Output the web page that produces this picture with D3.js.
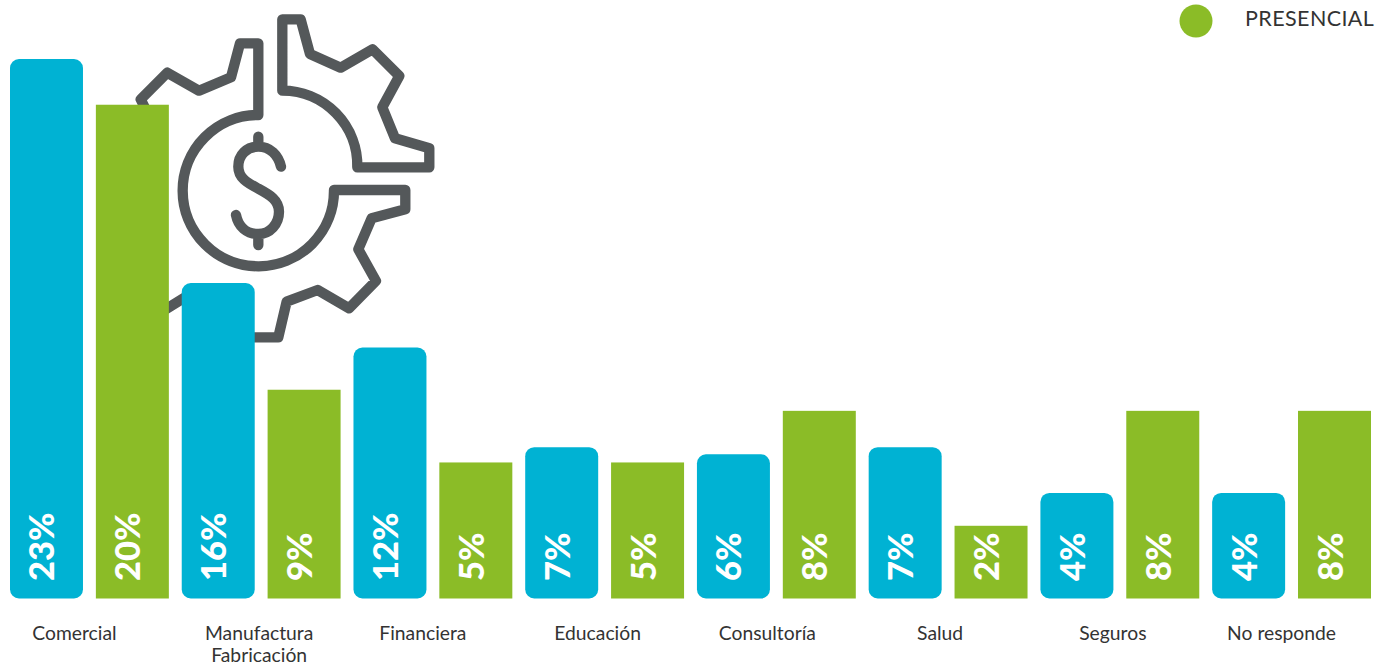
<!DOCTYPE html>
<html lang="es">
<head>
<meta charset="UTF-8">
<title>Sectores</title>
<script src="https://cdnjs.cloudflare.com/ajax/libs/d3/7.8.5/d3.min.js"></script>
<style>
    html, body { margin: 0; padding: 0; background: #fff; overflow: hidden; }
    svg { display: block; font-family: Lato, sans-serif; }
    .cat { font-size: 19.3px; fill: #333; text-anchor: middle; }
    .val { font-size: 34.5px; font-weight: 900; fill: #fff; }
    .legend { font-size: 21.5px; fill: #333; letter-spacing: 0.4px; }
    .gear { fill: none; stroke: #54585a; stroke-width: 31; stroke-linejoin: round; stroke-linecap: round; }
</style>
</head>
<body>
<div id="chart"></div>
<script>
const categories = ["Comercial", "Manufactura\nFabricación", "Financiera", "Educación", "Consultoría", "Salud", "Seguros", "No responde"];

// printed percentages
const blueLabels = [23, 16, 12, 7, 6, 7, 4, 4];
const greenLabels = [20, 9, 5, 5, 8, 2, 8, 8];

// bar heights as drawn in the picture, they do not follow the printed numbers exactly
const blueValues = [23, 13.45, 10.7, 6.45, 6.15, 6.45, 4.5, 4.5];
const greenValues = [21.05, 8.9, 5.8, 5.8, 8, 3.1, 8, 8];

const legendLabel = "PRESENCIAL";

const blue = "#00b2d3";
const green = "#8bbc27";

const width = 1376, height = 665;
const baseY = 598.5;

const svg = d3.select("#chart").append("svg")
    .attr("width", width)
    .attr("height", height);

// gear icon sits behind the bars
const gear = svg.append("g")
    .attr("class", "gear")
    .attr("transform", "translate(130,0) scale(0.3333)");

gear.append("path").attr("d",
    "M457,272 V58 H512 L540,162 L632,203 L728,148 L808,228 L757,322 L795,415 L898,445 V502 H682 " +
    "A225,225 0 0 0 457,272 Z");
gear.append("path").attr("d",
    "M385,345 V130 H330 L303,232 L207,272 L112,218 L32,298 L75,385 L40,480 L-60,505 V650 L40,675 L75,770 L25,860 " +
    "L80,945 L160,895 L255,935 L280,1012 H445 L470,905 L563,870 L657,925 L738,843 L685,748 L725,655 L826,628 V570 H612 " +
    "A227,227 0 1 1 385,345 Z");
gear.append("path").attr("d",
    "M453,500 C445,465 420,440 385,440 C350,440 325,465 325,500 C325,535 355,550 385,566 " +
    "C420,585 447,600 447,635 C447,672 420,702 385,702 C350,702 325,680 318,645 " +
    "M385,410 V440 M385,702 V735");

// one row of bars per series, two slots per category
const rows = [];
categories.forEach((c, i) => {
    rows.push({ cat: i, value: blueValues[i], label: blueLabels[i], color: blue, rx: 9 });
    rows.push({ cat: i, value: greenValues[i], label: greenLabels[i], color: green, rx: 0 });
});

const x = d3.scaleBand()
    .domain(d3.range(rows.length))
    .range([10, 1371])
    .paddingInner(0.15);

const y = d3.scaleLinear()
    .domain([0, 23])
    .range([baseY, 59]);

svg.selectAll(".bar")
    .data(rows)
    .enter().append("rect")
    .attr("class", "bar")
    .attr("x", (d, i) => x(i))
    .attr("y", d => y(d.value))
    .attr("width", x.bandwidth())
    .attr("height", d => baseY - y(d.value))
    .attr("rx", d => d.rx)
    .attr("fill", d => d.color);

svg.selectAll(".val")
    .data(rows)
    .enter().append("text")
    .attr("class", "val")
    .attr("transform", (d, i) => `translate(${x(i) + x.bandwidth() / 2 + 8},581) rotate(-90)`)
    .text(d => d.label + "%");

// the labels are not quite centred under their pairs
const labelShift = [-15, -2, -10, -7, -9, -8, -7, -10];

const cats = svg.selectAll(".cat")
    .data(categories)
    .enter().append("text")
    .attr("class", "cat")
    .attr("transform", (d, i) => {
        const mid = (x(i * 2) + x(i * 2 + 1) + x.bandwidth()) / 2;
        return `translate(${mid + labelShift[i]},640)`;
    });

cats.selectAll("tspan")
    .data(d => d.split("\n"))
    .enter().append("tspan")
    .attr("x", 0)
    .attr("dy", (d, i) => i ? 22 : 0)
    .text(d => d);

svg.append("circle")
    .attr("cx", 1196)
    .attr("cy", 21)
    .attr("r", 16.5)
    .attr("fill", green);

svg.append("text")
    .attr("class", "legend")
    .attr("x", 1245)
    .attr("y", 26)
    .text(legendLabel);
</script>
</body>
</html>
